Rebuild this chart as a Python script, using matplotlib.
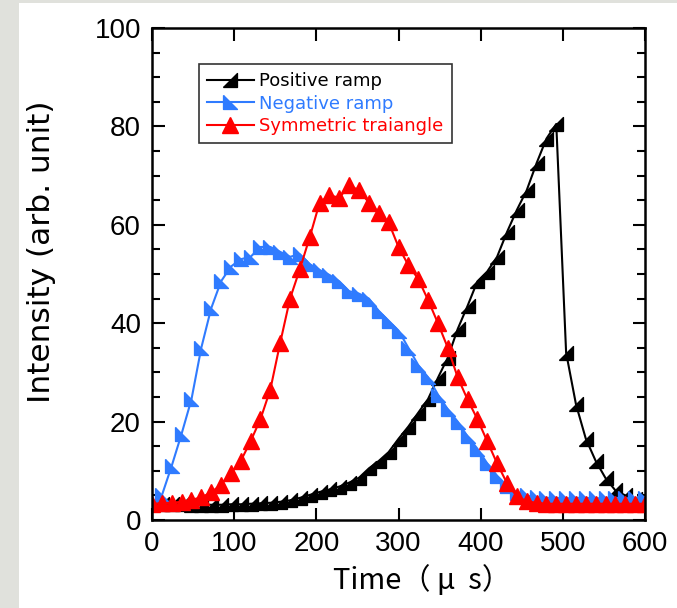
import numpy as np
import matplotlib
matplotlib.use("Agg")
import matplotlib.pyplot as plt
from matplotlib.patches import Rectangle
from matplotlib.ticker import MultipleLocator

plt.rcParams['font.family'] = ['Liberation Sans', 'Noto Sans CJK JP', 'DejaVu Sans']

# sampling times (us), one point every 12 us
time_us = np.arange(0, 601, 12)

positive_ramp = [
    3.3, 3.3, 3.2, 3.2, 3.1, 3.1, 3.1, 3.1, 3.2, 3.2,
    3.3, 3.4, 3.5, 3.7, 4.0, 4.5, 5.1, 5.7, 6.2, 6.8,
    7.6, 8.6, 10.5, 12.0, 13.8, 16.5, 19.0, 21.8, 24.6, 28.9,
    33.0, 38.8, 43.5, 48.5, 50.5, 53.5, 58.5, 63.0, 67.0, 72.5,
    77.5, 80.5, 34.0, 23.5, 16.5, 12.0, 8.5, 6.0, 5.0, 4.2,
    3.8,
]
negative_ramp = [
    3.5, 5.0, 11.0, 17.5, 24.5, 35.0, 43.0, 48.5, 51.5, 53.0,
    53.5, 55.5, 55.5, 54.5, 53.5, 54.0, 52.0, 50.8, 49.8, 48.5,
    46.5, 46.0, 45.0, 42.5, 40.5, 38.5, 35.0, 31.5, 29.0, 25.5,
    22.5, 20.0, 17.0, 14.5, 11.5, 9.0, 7.0, 5.5, 5.0, 4.6,
    4.5, 4.5, 4.4, 4.5, 4.5, 4.4, 4.5, 4.5, 4.4, 4.5,
    4.5,
]
symmetric = [
    3.3, 3.4, 3.5, 3.7, 4.1, 4.6, 5.6, 7.2, 9.5, 12.0,
    16.0, 20.5, 26.5, 36.0, 45.0, 51.0, 57.5, 64.5, 66.0, 65.5,
    68.0, 67.0, 64.5, 62.5, 60.5, 55.5, 51.8, 49.0, 44.7, 40.0,
    35.0, 29.0, 24.5, 20.5, 16.0, 11.5, 7.5, 4.8, 3.8, 3.5,
    3.3, 3.3, 3.3, 3.3, 3.3, 3.3, 3.3, 3.3, 3.3, 3.3,
    3.3,
]

labels = ["Positive ramp", "Negative ramp", "Symmetric traiangle"]
colors = ["#000000", "#2f7bff", "#ff0000"]

# right-angled triangle markers
mk_pos = [(-1, -1), (1, -1), (1, 1), (-1, -1)]
mk_neg = [(-1, 1), (-1, -1), (1, -1), (-1, 1)]

fig = plt.figure(figsize=(6.77, 6.08), dpi=100, facecolor="#e0e1dc")
fig.patches.append(Rectangle((19 / 677, 0), 1, 1 - 3 / 608, transform=fig.transFigure,
                             facecolor="white", edgecolor="none", zorder=-5))
ax = fig.add_axes([152 / 677, 1 - 520 / 608, 493 / 677, 492 / 608])

ax.plot(time_us, positive_ramp, color=colors[0], lw=1.5, marker=mk_pos, ms=10,
        label=labels[0])
ax.plot(time_us, negative_ramp, color=colors[1], lw=1.5, marker=mk_neg, ms=10,
        label=labels[1])
ax.plot(time_us, symmetric, color=colors[2], lw=1.5, marker="^", ms=11,
        label=labels[2])

ax.set_xlim(0, 600)
ax.set_ylim(0, 100)
ax.xaxis.set_major_locator(MultipleLocator(100))
ax.yaxis.set_major_locator(MultipleLocator(20))
ax.yaxis.set_minor_locator(MultipleLocator(5))
ax.tick_params(which="both", direction="in", top=True, right=True, width=1.5,
               labelsize=20, pad=8)
ax.tick_params(which="major", length=9)
ax.tick_params(which="minor", length=6)
for s in ax.spines.values():
    s.set_linewidth(1.8)

ax.set_xlabel("Time（ μ  s）", fontsize=21,
              family=["Noto Sans CJK JP", "DejaVu Sans"])
ax.xaxis.set_label_coords(0.547, -0.092)
ax.set_ylabel("Intensity (arb. unit)", fontsize=22.5, family="DejaVu Sans")
ax.yaxis.set_label_coords(-0.195, 0.545)

leg = ax.legend(loc="upper left", bbox_to_anchor=(0.095, 0.927), borderaxespad=0,
                prop={"family": "DejaVu Sans", "size": 13},
                frameon=True, fancybox=False, edgecolor="black", handlelength=2.6,
                borderpad=0.45, labelspacing=0.25, handletextpad=0.3)
leg.get_frame().set_linewidth(1.2)
for txt, c in zip(leg.get_texts(), colors):
    txt.set_color(c)

fig.savefig("out.png", dpi=100, facecolor=fig.get_facecolor())
